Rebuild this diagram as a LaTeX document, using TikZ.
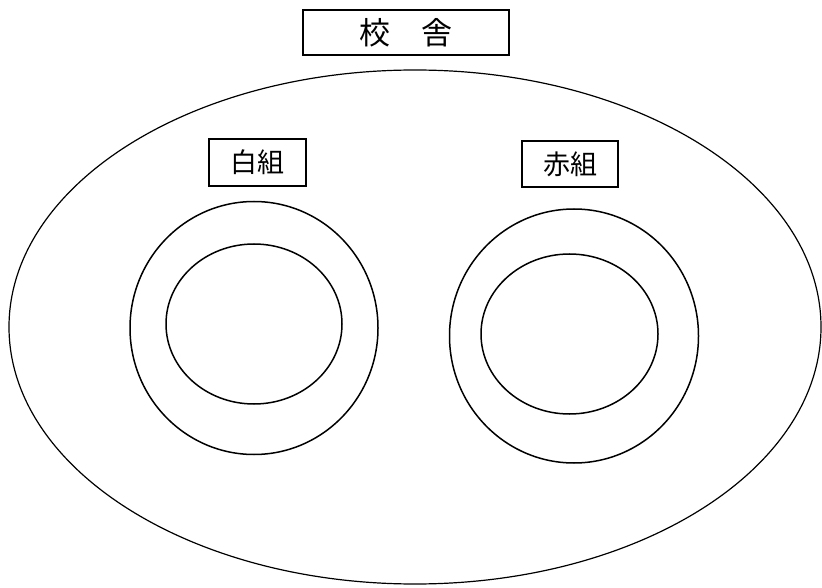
\documentclass[tikz,border=0pt]{standalone}
\usepackage{fontspec}
\newfontfamily\cjk{Noto Sans CJK JP}
\usetikzlibrary{shapes.geometric}
\begin{document}
\begin{tikzpicture}[x=1pt,y=-1pt,
  ring/.style={draw, ellipse, line width=1.5pt, inner sep=0pt},
  label box/.style={draw, rectangle, line width=1.6pt, inner sep=0pt, font=\cjk\fontsize{27}{27}\selectfont},
  every node/.style={anchor=center}]
\useasboundingbox (0,0) rectangle (822,588);
\node[ring, line width=1.2pt, minimum width=812pt, minimum height=514pt] (campus) at (415,327) {};
\node[ring, minimum width=248pt, minimum height=253pt] (whiteouter) at (254,328) {};
\node[ring, minimum width=176pt, minimum height=160pt] (whiteinner) at (254,324) {};
\node[ring, minimum width=249pt, minimum height=254pt] (redouter) at (574,336) {};
\node[ring, minimum width=177pt, minimum height=160pt] (redinner) at (569.5,334) {};
\node[label box, minimum width=206pt, minimum height=45pt, font=\cjk\fontsize{31}{31}\selectfont] (school) at (406,32.5) {校　舎};
\node[label box, minimum width=97pt, minimum height=47pt] (white) at (257.5,162.5) {白組};
\node[label box, minimum width=96pt, minimum height=46pt] (red) at (570,164) {赤組};
\end{tikzpicture}
\end{document}
